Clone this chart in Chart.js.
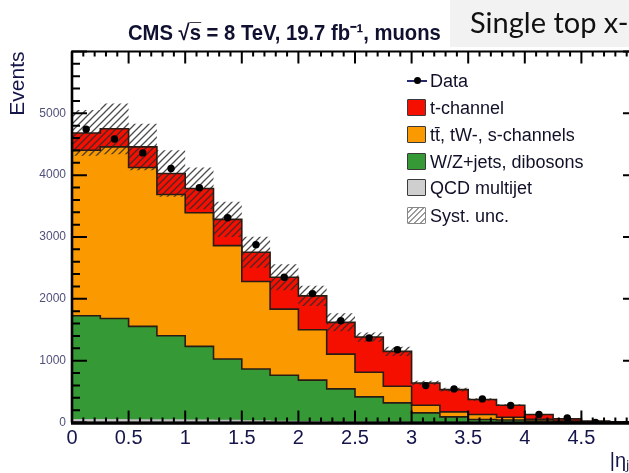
<!DOCTYPE html>
<html>
<head>
<meta charset="utf-8">
<script src="https://cdn.jsdelivr.net/npm/chart.js@4/dist/chart.umd.min.js"></script>
<style>
  html, body { margin: 0; padding: 0; background: #fff; overflow: hidden; width: 629px; height: 473px; }
  #wrap { position: absolute; left: 0; top: 0; width: 660px; height: 473px; }
  #cms-title { position: absolute; left: 128px; top: 16px; font: bold 22px "Liberation Sans", Arial, sans-serif;
               color: #101030; white-space: nowrap; transform-origin: left top; transform: scaleX(0.92); }
  #slide-box { position: absolute; left: 450px; top: 0; width: 179px; height: 47px; background: #f2f2f2; overflow: hidden; }
  #slide-text { position: absolute; left: 20px; top: 4px; font: 29px Lato, "Open Sans", sans-serif; color: #111; white-space: nowrap; }
  #legend { position: absolute; left: 407px; top: 0; font: 18px "Liberation Sans", Arial, sans-serif; color: #101028; }
  .row { position: absolute; left: 0; height: 20px; line-height: 20px; white-space: nowrap; }
  .sw { position: absolute; left: 0; top: 1px; width: 17px; height: 15px; border: 1.5px solid #3a3a3a; border-radius: 1px; }
  .lbl { position: absolute; left: 23px; top: 0; }
  .mk-line { position: absolute; left: 0; top: 9px; width: 20px; height: 2px; background: #2a2a70; }
  .mk-dot { position: absolute; left: 6.5px; top: 6.5px; width: 7px; height: 7px; border-radius: 50%; background: #000; }
</style>
</head>
<body>
<div id="wrap"><canvas id="c" width="660" height="473"></canvas></div>
<div id="cms-title">CMS √s̅ = 8 TeV, 19.7 fb⁻¹, muons</div>
<div id="slide-box"><div id="slide-text">Single top x-</div></div>
<div id="legend"></div>
<script>
// Histogram binning in |eta| of the forward jet
const binEdges = [0, 0.25, 0.5, 0.75, 1, 1.25, 1.5, 1.75, 2, 2.25, 2.5,
                  2.75, 3, 3.25, 3.5, 3.75, 4, 4.25, 4.5, 4.75, 5];

// Expected event yields per bin, per process
const qcdMultijet = [45, 45, 40, 40, 35, 30, 25, 15, 10, 5, 3, 2, 0, 0, 0, 0, 0, 0, 0, 0];
const wzJets      = [1681, 1638, 1514, 1363, 1196, 997, 841, 748, 675, 538, 411, 315, 156, 91, 48, 40, 25, 10, 5, 2];
const ttbarTW     = [2677, 2774, 2569, 2285, 2161, 1833, 1414, 1071, 815, 562, 398, 269, 124, 81, 81, 46, 25, 15, 5, 3];
const tChannel    = [279, 293, 334, 339, 393, 425, 473, 516, 548, 515, 570, 565, 360, 360, 242, 194, 79, 34, 15, 5];

// Observed events and systematic uncertainty on the total prediction
const dataCounts  = [4742, 4586, 4360, 4108, 3796, 3312, 2876, 2350, 2085, 1645, 1366, 1177, 597, 543, 382, 274, 129, 75, 2, null];
const systUnc     = [370, 410, 376, 376, 338, 285, 252, 210, 165, 146, 75, 75, 35, 30, 20, 15, 10, 6, 3, 2];

const xTickLabels = ['0', '0.5', '1', '1.5', '2', '2.5', '3', '3.5', '4', '4.5', ''];
const yTickLabels = ['0', '1000', '2000', '3000', '4000', '5000', ''];

const legendNames = ['Data', 't-channel', 'tt̄, tW-, s-channels', 'W/Z+jets, dibosons', 'QCD multijet', 'Syst. unc.'];
const colors = { t: '#f50f00', tt: '#fa9a00', wz: '#359a35', qcd: '#cfcfcf', edge: '#2a1c14' };

// Cumulative stacks (bottom to top)
const cumQcd = qcdMultijet.slice();
const cumWz = cumQcd.map((v, i) => v + wzJets[i]);
const cumTt = cumWz.map((v, i) => v + ttbarTW[i]);
const cumT  = cumTt.map((v, i) => v + tChannel[i]);
const uncUp = cumT.map((v, i) => v + systUnc[i]);
const uncDn = cumT.map((v, i) => Math.max(0, v - systUnc[i]));

// Points at bin low edges plus the last upper edge; 'before' stepping holds
// each value flat until the next edge
function stepPoints(values) {
  const pts = values.map((v, i) => ({ x: binEdges[i], y: v }));
  pts.push({ x: binEdges[values.length], y: values[values.length - 1] });
  return pts;
}
const dataPoints = [];
dataCounts.forEach((v, i) => {
  if (v !== null) dataPoints.push({ x: (binEdges[i] + binEdges[i + 1]) / 2, y: v });
});

const canvas = document.getElementById('c');
const ctx = canvas.getContext('2d');

function makeHatch(lineColor) {
  const s = 7;
  const t = document.createElement('canvas');
  t.width = s; t.height = s;
  const g = t.getContext('2d');
  g.strokeStyle = lineColor;
  g.lineWidth = 1.3;
  g.beginPath();
  g.moveTo(-1, s + 1); g.lineTo(s + 1, -1);
  g.moveTo(-1, 1); g.lineTo(1, -1);
  g.moveTo(s - 1, s + 1); g.lineTo(s + 1, s - 1);
  g.stroke();
  return ctx.createPattern(t, 'repeat');
}
const hatch = makeHatch('rgba(45,45,45,0.85)');

function histo(label, values, fillColor, fill, edge) {
  return {
    label, data: stepPoints(values), stepped: 'before', fill,
    backgroundColor: fillColor, borderColor: edge || colors.edge, borderWidth: 1.6,
    pointRadius: 0, pointHoverRadius: 0
  };
}

// ROOT-style frame with inward ticks on all four sides
const frameTicks = {
  id: 'frameTicks',
  afterDatasetsDraw(chart) {
    const { ctx, chartArea: { left, right, top, bottom }, scales: { x, y } } = chart;
    ctx.save();
    ctx.strokeStyle = '#000';
    ctx.lineWidth = 2;
    ctx.beginPath();
    for (let k = 0; k <= 30; k++) {
      const py = y.getPixelForValue(k * 200);
      const len = k % 5 === 0 ? 15 : 8;
      ctx.moveTo(left, py); ctx.lineTo(left + len, py);
      ctx.moveTo(right, py); ctx.lineTo(right - len, py);
    }
    for (let k = 0; k <= 50; k++) {
      const px = x.getPixelForValue(k / 10);
      const len = k % 5 === 0 ? 12 : 5;
      ctx.moveTo(px, bottom); ctx.lineTo(px, bottom - len);
      ctx.moveTo(px, top); ctx.lineTo(px, top + len);
    }
    ctx.stroke();
    ctx.lineWidth = 2;
    ctx.strokeRect(left, top, right - left, bottom - top);
    ctx.lineWidth = 2.6;
    ctx.beginPath(); ctx.moveTo(left, top); ctx.lineTo(left, bottom); ctx.stroke();
    ctx.lineWidth = 3;
    ctx.beginPath(); ctx.moveTo(left - 1, bottom + 0.8); ctx.lineTo(right, bottom + 0.8); ctx.stroke();
    ctx.restore();
  }
};

new Chart(canvas, {
  type: 'line',
  data: {
    datasets: [
      { label: 'Data', data: dataPoints, showLine: false, pointRadius: 3.7, pointHoverRadius: 3.7,
        pointBackgroundColor: '#000', pointBorderColor: '#000', pointBorderWidth: 0 },
      { label: 'Syst. unc.', data: stepPoints(uncUp), stepped: 'before', fill: '+1', backgroundColor: hatch,
        borderColor: 'rgba(0,0,0,0)', borderWidth: 0, pointRadius: 0, pointHoverRadius: 0 },
      { label: 'unc-low', data: stepPoints(uncDn), stepped: 'before', fill: false,
        borderColor: 'rgba(0,0,0,0)', borderWidth: 0, pointRadius: 0, pointHoverRadius: 0 },
      histo('t-channel', cumT, colors.t, '+1'),
      histo('tt, tW, s', cumTt, colors.tt, '+1'),
      histo('W/Z+jets', cumWz, colors.wz, '+1'),
      histo('QCD', cumQcd, colors.qcd, 'origin', '#bdbdbd')
    ]
  },
  options: {
    responsive: false,
    animation: false,
    devicePixelRatio: 1,
    layout: { padding: { left: 0, top: 51.5, right: 22, bottom: 0 } },
    plugins: {
      legend: { display: false },
      tooltip: { enabled: false },
      filler: { drawTime: 'beforeDatasetsDraw' }
    },
    scales: {
      x: {
        type: 'linear', min: 0, max: 5,
        grid: { display: false, drawTicks: false },
        border: { display: false },
        ticks: {
          stepSize: 0.5, autoSkip: false, maxRotation: 0, padding: 4,
          color: '#15154a', font: { family: '"Liberation Sans", Arial, sans-serif', size: 20 },
          callback: (v) => xTickLabels[Math.round(v * 2)] ?? ''
        },
        title: {
          display: true, text: '|ηⱼ′|', align: 'end', color: '#15154a',
          font: { family: '"Liberation Sans", Arial, sans-serif', size: 20 }, padding: { top: 0, bottom: 0 }
        },
        afterFit: (s) => { s.height = 50.5; }
      },
      y: {
        type: 'linear', min: 0, max: 6000,
        grid: { display: false, drawTicks: false },
        border: { display: false },
        ticks: {
          stepSize: 1000, padding: 6, color: '#50507a',
          font: { family: '"Liberation Sans", Arial, sans-serif', size: 12 },
          callback: (v) => yTickLabels[Math.round(v / 1000)] ?? ''
        },
        title: {
          display: true, text: 'Events', align: 'end', color: '#15154a',
          font: { family: '"Liberation Sans", Arial, sans-serif', size: 21 }, padding: { top: 6, bottom: 0 }
        },
        afterFit: (s) => { s.width = 72; }
      }
    }
  },
  plugins: [frameTicks]
});

// Legend entries, drawn over the plot's upper right
const legendY = [80.7, 107.5, 135, 161.5, 188, 215.5];
const swatches = [null, colors.t, colors.tt, colors.wz, colors.qcd, 'hatch'];
const legend = document.getElementById('legend');
legendNames.forEach((name, i) => {
  const row = document.createElement('div');
  row.className = 'row';
  row.style.top = (legendY[i] - 10) + 'px';
  if (i === 0) {
    row.innerHTML = '<div class="mk-line"></div><div class="mk-dot"></div>';
  } else {
    const sw = document.createElement('div');
    sw.className = 'sw';
    if (swatches[i] === 'hatch') {
      sw.style.background = 'repeating-linear-gradient(135deg, #fff 0 2.5px, #9a9a9a 2.5px 4px)';
      sw.style.borderColor = '#888';
    } else {
      sw.style.background = swatches[i];
    }
    row.appendChild(sw);
  }
  const lbl = document.createElement('div');
  lbl.className = 'lbl';
  lbl.textContent = name;
  row.appendChild(lbl);
  legend.appendChild(row);
});
</script>
</body>
</html>
